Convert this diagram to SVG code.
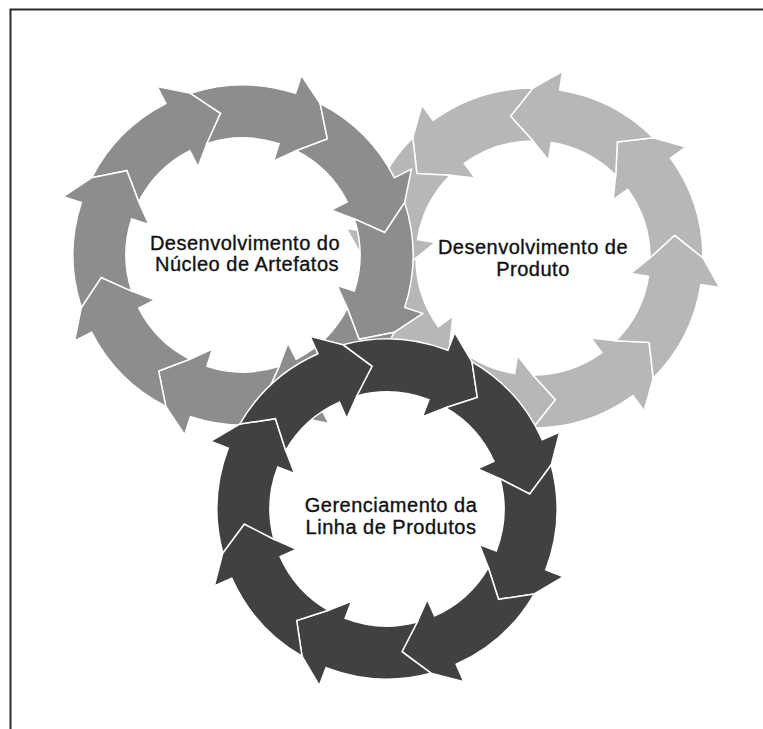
<svg xmlns="http://www.w3.org/2000/svg" width="763" height="729" viewBox="0 0 763 729">
  <style>
    .frame{fill:none;stroke:#2b2b2b;stroke-width:2}
    .seg{stroke:#ffffff;stroke-width:1.5;stroke-linejoin:miter}
    #ring-product .seg{fill:#b7b7b7}
    #ring-core .seg{fill:#8d8d8d}
    #ring-management .seg{fill:#414141}
    .label{font-family:"Liberation Sans",Arial,sans-serif;font-size:20px;letter-spacing:0.5px;fill:#111111;stroke:#111111;stroke-width:0.35;text-anchor:middle}
  </style>
  <defs>
    <!-- one curved block arrow of a ring: notched tail at 0deg, head base at 36deg,
         tip at 54deg (fits the notch of the following arrow) -->
    <path id="arc-arrow" d="M170,0 A170,170 0 0 1 137.533,99.923 L152.904,111.091 L120.208,120.208 L84.347,116.094 L82.731,82.731 L80.093,58.191 L94.655,68.771 A117,117 0 0 0 117,0 L141.733,22.448 Z"/>
  </defs>

  <rect width="763" height="729" fill="#ffffff"/>
  <path class="frame" d="M10.5,729 V9.5 H763"/>

  <!-- Desenvolvimento de Produto (counter-clockwise) -->
  <g id="ring-product">
    <use href="#arc-arrow" class="seg" transform="translate(533,258) rotate(0) scale(1,-1)"/>
    <use href="#arc-arrow" class="seg" transform="translate(533,258) rotate(-45) scale(1,-1)"/>
    <use href="#arc-arrow" class="seg" transform="translate(533,258) rotate(-90) scale(1,-1)"/>
    <use href="#arc-arrow" class="seg" transform="translate(533,258) rotate(-135) scale(1,-1)"/>
    <use href="#arc-arrow" class="seg" transform="translate(533,258) rotate(-180) scale(1,-1)"/>
    <use href="#arc-arrow" class="seg" transform="translate(533,258) rotate(-225) scale(1,-1)"/>
    <use href="#arc-arrow" class="seg" transform="translate(533,258) rotate(-270) scale(1,-1)"/>
    <use href="#arc-arrow" class="seg" transform="translate(533,258) rotate(-315) scale(1,-1)"/>
    <text class="label" x="533" y="253.5">Desenvolvimento de</text>
    <text class="label" x="533" y="275.5">Produto</text>
  </g>

  <!-- Desenvolvimento do Núcleo de Artefatos (clockwise) -->
  <g id="ring-core">
    <use href="#arc-arrow" class="seg" transform="translate(243,255) rotate(-153)"/>
    <use href="#arc-arrow" class="seg" transform="translate(243,255) rotate(-108)"/>
    <use href="#arc-arrow" class="seg" transform="translate(243,255) rotate(-63)"/>
    <use href="#arc-arrow" class="seg" transform="translate(243,255) rotate(-18)"/>
    <use href="#arc-arrow" class="seg" transform="translate(243,255) rotate(27)"/>
    <use href="#arc-arrow" class="seg" transform="translate(243,255) rotate(72)"/>
    <use href="#arc-arrow" class="seg" transform="translate(243,255) rotate(117)"/>
    <use href="#arc-arrow" class="seg" transform="translate(243,255) rotate(162)"/>
    <text class="label" x="245" y="249.5">Desenvolvimento do</text>
    <text class="label" x="247" y="271">Núcleo de Artefatos</text>
  </g>

  <!-- Gerenciamento da Linha de Produtos (clockwise) -->
  <g id="ring-management">
    <use href="#arc-arrow" class="seg" transform="translate(387,509) rotate(-105)"/>
    <use href="#arc-arrow" class="seg" transform="translate(387,509) rotate(-60)"/>
    <use href="#arc-arrow" class="seg" transform="translate(387,509) rotate(-15)"/>
    <use href="#arc-arrow" class="seg" transform="translate(387,509) rotate(30)"/>
    <use href="#arc-arrow" class="seg" transform="translate(387,509) rotate(75)"/>
    <use href="#arc-arrow" class="seg" transform="translate(387,509) rotate(120)"/>
    <use href="#arc-arrow" class="seg" transform="translate(387,509) rotate(165)"/>
    <use href="#arc-arrow" class="seg" transform="translate(387,509) rotate(210)"/>
    <text class="label" x="391" y="512">Gerenciamento da</text>
    <text class="label" x="391" y="534">Linha de Produtos</text>
  </g>
</svg>
